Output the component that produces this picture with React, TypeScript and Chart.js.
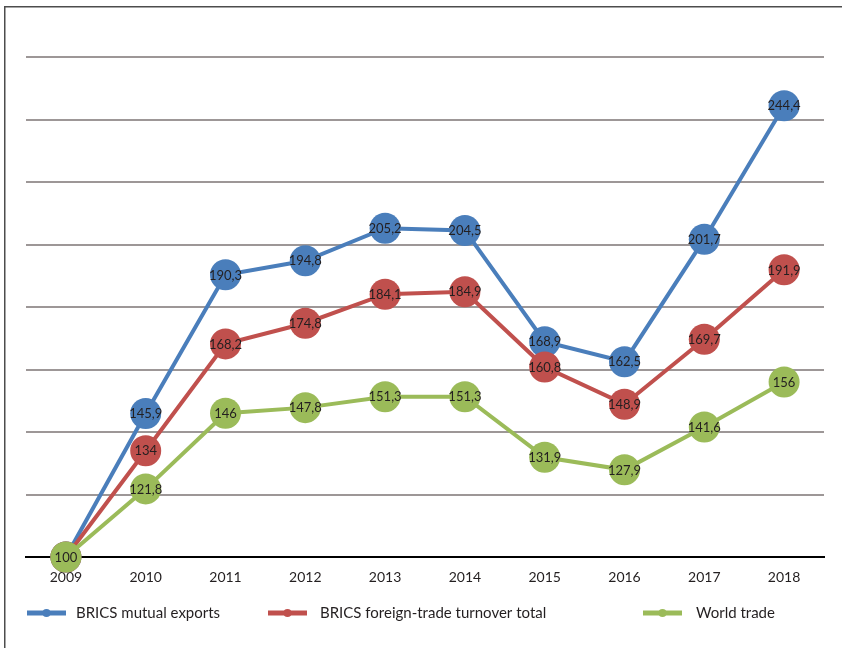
import React, { useEffect, useRef } from "react";
import { Chart, registerables } from "chart.js";

Chart.register(...registerables);

const years = ["2009", "2010", "2011", "2012", "2013", "2014", "2015", "2016", "2017", "2018"];
const bricsMutualExports = [100, 145.9, 190.3, 194.8, 205.2, 204.5, 168.9, 162.5, 201.7, 244.4];
const bricsForeignTrade = [100, 134, 168.2, 174.8, 184.1, 184.9, 160.8, 148.9, 169.7, 191.9];
const worldTrade = [100, 121.8, 146, 147.8, 151.3, 151.3, 131.9, 127.9, 141.6, 156];
const seriesNames = ["BRICS mutual exports", "BRICS foreign-trade turnover total", "World trade"];
const seriesColors = ["#4a7ebb", "#c0504d", "#9bbb59"];

const FONT = "Lato, 'Noto Sans', sans-serif";
const TEXT = "#231f20";

const fmt = (v: number) => String(v).replace(".", ",");

const labelPlugin = {
  id: "pointLabels",
  afterDatasetDraw(chart: any, args: any) {
    const ctx = chart.ctx;
    const ds = chart.data.datasets[args.index];
    ctx.save();
    ctx.font = `13px ${FONT}`;
    ctx.fillStyle = TEXT;
    ctx.textAlign = "center";
    ctx.textBaseline = "middle";
    args.meta.data.forEach((pt: any, i: number) => {
      ctx.fillText(fmt(ds.data[i]), pt.x, pt.y + 0.5);
    });
    ctx.restore();
  },
};

const framePlugin = {
  id: "frameAndLegend",
  beforeDraw(chart: any) {
    const ctx = chart.ctx;
    ctx.save();
    ctx.fillStyle = "#ffffff";
    ctx.fillRect(0, 0, chart.width, chart.height);
    ctx.strokeStyle = "#4d4d4d";
    ctx.lineWidth = 1.5;
    ctx.beginPath();
    ctx.moveTo(4.75, chart.height);
    ctx.lineTo(4.75, 6.75);
    ctx.lineTo(chart.width, 6.75);
    ctx.stroke();
    ctx.restore();
  },
  afterDraw(chart: any) {
    const ctx = chart.ctx;
    const items = [
      { x0: 27, x1: 66, tx: 76 },
      { x0: 268, x1: 307, tx: 320 },
      { x0: 643, x1: 682, tx: 696 },
    ];
    const y = 613;
    ctx.save();
    items.forEach((it, i) => {
      ctx.strokeStyle = seriesColors[i];
      ctx.lineWidth = 5;
      ctx.beginPath();
      ctx.moveTo(it.x0, y);
      ctx.lineTo(it.x1, y);
      ctx.stroke();
      ctx.fillStyle = seriesColors[i];
      ctx.beginPath();
      ctx.arc((it.x0 + it.x1) / 2, y, 4, 0, Math.PI * 2);
      ctx.fill();
      ctx.fillStyle = TEXT;
      ctx.font = `15px ${FONT}`;
      ctx.textAlign = "left";
      ctx.textBaseline = "middle";
      ctx.fillText(seriesNames[i], it.tx, y);
    });
    ctx.restore();
  },
};

export default function App() {
  const ref = useRef<HTMLCanvasElement | null>(null);
  useEffect(() => {
    if (!ref.current) return;
    const mk = (idx: number, data: number[], order: number) => ({
      label: seriesNames[idx],
      data,
      borderColor: seriesColors[idx],
      backgroundColor: seriesColors[idx],
      borderWidth: 4,
      pointRadius: 15.5,
      pointHoverRadius: 15.5,
      pointBorderWidth: 0,
      pointBackgroundColor: seriesColors[idx],
      tension: 0,
      order,
      clip: false as any,
    });
    const chart = new Chart(ref.current, {
      type: "line",
      data: {
        labels: years,
        datasets: [
          mk(0, bricsMutualExports, 2),
          mk(1, bricsForeignTrade, 1),
          mk(2, worldTrade, 0),
        ],
      },
      options: {
        responsive: false,
        animation: false,
        layout: { padding: { left: 26, right: 18, top: 57, bottom: 0 } },
        plugins: { legend: { display: false }, tooltip: { enabled: false } },
        scales: {
          x: {
            type: "category",
            offset: true,
            grid: { display: false, drawTicks: false },
            border: { display: true, color: "#000000", width: 2 },
            ticks: { color: TEXT, font: { family: FONT, size: 14 }, padding: 12, maxRotation: 0 },
            afterFit: (s: any) => {
              s.height = 91;
            },
          },
          y: {
            min: 100,
            max: 260,
            ticks: { display: false, stepSize: 20 },
            grid: { color: "#9d9797", lineWidth: 2, drawTicks: false },
            border: { display: false },
            afterFit: (s: any) => {
              s.width = 0;
            },
          },
        },
      },
      plugins: [framePlugin, labelPlugin],
    });
    return () => chart.destroy();
  }, []);
  return (
    <div style={{ position: "absolute", left: 0, top: 0, width: 842, height: 648 }}>
      <canvas ref={ref} width={842} height={648} style={{ width: 842, height: 648, display: "block" }} />
    </div>
  );
}
